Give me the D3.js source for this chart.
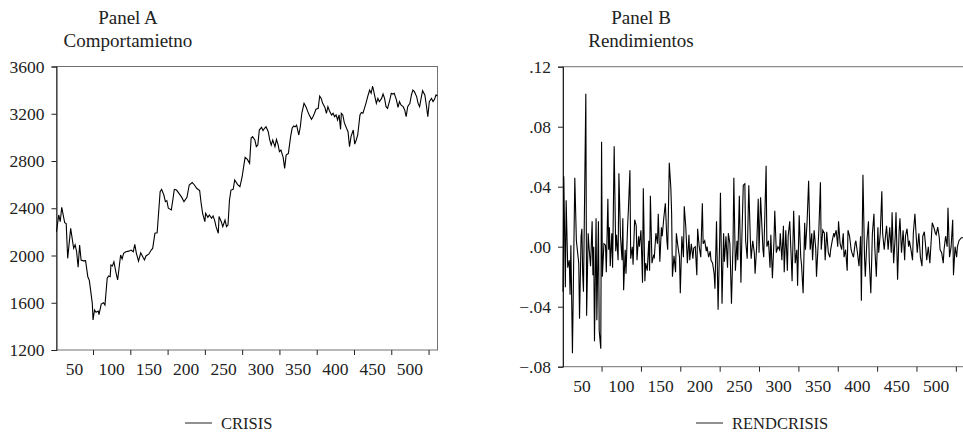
<!DOCTYPE html>
<html>
<head>
<meta charset="utf-8">
<script src="https://cdn.jsdelivr.net/npm/d3@7"></script>
<style>
  body { margin: 0; background: #fff; }
  svg text { font-family: "Liberation Serif", "DejaVu Serif", serif; fill: #222; }
</style>
</head>
<body>
<div id="chart"></div>
<script>

var obsA = [1,4,6,8,12,14,16,20,24,26,28,30,32,34,37,40,43,45,47,49,50,52,54,57,58,61,64,66,69,71,73,74,76,78,81,83,87,89,91,94,98,101,104,106,108,111,114,117,119,121,125,128,130,133,136,140,142,145,147,149,151,155,157,159,162,166,169,172,176,179,183,186,189,193,195,197,200,201,204,206,209,211,213,215,218,219,222,224,227,229,231,233,235,238,240,244,247,250,252,254,257,260,262,264,267,269,271,273,276,278,280,282,285,287,289,291,294,296,298,300,302,305,307,309,312,315,317,319,321,323,326,328,330,333,336,338,340,343,345,347,349,352,354,356,358,361,363,365,367,370,372,374,376,378,380,382,383,385,387,390,392,394,396,399,401,403,405,408,410,412,414,416,419,421,423,425,428,430,432,434,437,439,441,443,445,448,450,452,454,457,459,461,463,466,468,470,472,475,477,479,481,484,486,488,490,492,495,497,499,501,504,506,508,510,512];
var crisis = [2201,2343,2286,2408,2278,2270,1976,2230,2061,2090,2032,1900,2089,1962,1955,1957,1820,1790,1694,1595,1454,1539,1520,1530,1500,1589,1600,1580,1807,1826,1820,1920,1912,1947,1849,1793,2004,1970,2018,2032,2037,2046,2032,2095,2023,1953,2023,1985,1962,1996,2013,2046,2060,2188,2193,2540,2560,2512,2456,2465,2400,2386,2470,2560,2554,2520,2492,2456,2492,2597,2617,2597,2569,2549,2442,2357,2286,2357,2323,2343,2315,2335,2300,2244,2188,2330,2286,2244,2300,2244,2258,2470,2554,2560,2639,2600,2582,2667,2752,2831,2813,2780,2992,3006,2978,2921,2935,3062,3085,3057,3077,3090,3048,2978,2935,2978,2921,2983,2943,2879,2893,2831,2738,2850,2864,3006,3077,3097,3090,3104,3020,3090,3204,3288,3254,3218,3190,3153,3175,3204,3238,3246,3350,3330,3288,3254,3204,3260,3226,3190,3204,3175,3190,3147,3190,3068,3204,3190,3125,3077,3048,2921,3006,3062,2943,2978,3020,3190,3210,3204,3246,3288,3359,3401,3373,3435,3345,3288,3330,3302,3330,3367,3330,3260,3246,3316,3373,3367,3373,3316,3254,3302,3274,3260,3232,3175,3260,3288,3359,3401,3387,3345,3288,3260,3330,3395,3359,3274,3175,3302,3330,3302,3322,3359,3350];

// Panel B - returns
var obsB = [1,2,4,5,7,9,10,11,13,16,18,21,22,24,25,26,27,30,31,33,34,36,38,39,40,41,43,44,46,47,49,50,51,53,55,56,58,59,60,61,63,64,66,68,69,71,72,74,76,77,78,80,81,83,84,86,87,89,90,92,94,95,97,98,100,102,103,105,106,108,110,111,112,114,116,117,119,121,122,124,126,127,129,131,133,134,136,138,139,140,142,144,145,147,149,150,152,154,155,157,159,161,162,164,166,167,169,171,172,174,176,178,179,181,183,184,186,188,189,191,193,194,196,198,200,201,203,205,206,208,210,211,213,215,217,218,220,222,223,225,227,228,230,232,233,235,237,239,240,242,244,245,247,249,250,252,255,256,259,260,262,264,265,267,269,270,272,274,276,277,279,281,282,284,286,287,289,291,292,294,296,298,299,301,303,304,306,308,309,311,313,315,317,318,320,322,323,326,328,329,331,333,334,336,338,340,341,343,345,346,348,350,351,353,355,357,358,360,362,363,365,367,368,370,372,373,375,377,379,380,382,384,385,387,389,390,392,394,396,397,399,401,402,404,406,407,409,411,412,414,416,418,419,421,423,424,426,428,429,431,433,435,436,438,440,441,443,445,446,448,450,451,453,455,457,458,460,462,463,465,467,468,470,472,474,475,477,479,480,482,484,485,487,489,490,492,494,496,497,499,501,502,504,507,509,511];
var rendcrisis = [-0.030,0.047,-0.027,0.031,-0.014,-0.009,-0.032,0.001,-0.071,0.046,0.004,-0.011,-0.048,0.007,0.012,-0.018,-0.030,0.102,-0.046,0.009,0.000,-0.013,0.017,-0.019,0.000,-0.063,0.019,-0.049,0.017,-0.056,-0.068,0.070,-0.020,0.002,0.001,-0.017,0.032,-0.002,0.013,-0.013,0.009,-0.014,0.067,-0.003,0.008,-0.009,0.049,0.007,-0.009,0.019,-0.029,-0.002,-0.018,0.013,0.024,0.051,-0.008,0.000,-0.012,0.018,0.014,-0.009,0.007,0.000,0.011,-0.024,0.039,-0.023,-0.011,-0.016,0.004,-0.016,0.034,-0.011,-0.006,-0.007,0.009,0.002,0.022,-0.010,0.013,0.007,0.019,0.029,0.004,-0.002,0.056,0.039,0.022,-0.020,-0.006,-0.017,0.009,0.000,-0.007,-0.031,0.007,-0.007,0.027,0.013,-0.011,0.008,-0.009,0.002,-0.008,-0.001,0.000,-0.019,0.012,0.000,-0.007,0.029,0.002,0.004,-0.003,0.000,-0.007,-0.003,-0.009,-0.011,-0.018,-0.028,0.017,-0.042,0.004,0.036,-0.038,0.009,-0.010,0.007,-0.014,0.009,0.002,-0.038,0.002,0.046,-0.016,0.004,-0.009,0.034,-0.024,0.002,0.041,0.042,0.004,-0.008,0.041,0.004,-0.008,0.004,-0.004,-0.018,0.000,0.032,-0.004,0.033,-0.002,-0.007,0.054,0.000,0.004,-0.014,0.008,-0.021,0.004,0.024,-0.004,0.000,-0.002,0.009,-0.009,0.014,-0.017,0.011,-0.016,0.007,0.017,-0.009,-0.023,0.024,-0.011,-0.002,-0.026,0.021,-0.007,-0.012,-0.031,0.016,-0.002,0.016,0.044,-0.002,0.009,-0.009,0.011,-0.001,-0.020,0.011,0.043,-0.002,0.011,0.009,-0.009,0.010,-0.004,-0.007,-0.002,0.004,0.009,0.007,0.011,0.000,0.017,0.002,-0.002,0.009,-0.007,-0.002,-0.016,0.011,0.007,-0.002,-0.004,-0.007,0.002,0.004,-0.004,-0.013,0.007,-0.036,0.048,-0.007,-0.020,0.004,0.017,-0.009,-0.031,0.009,0.022,0.000,-0.020,0.013,-0.004,0.009,0.037,0.009,-0.002,0.009,0.014,-0.002,0.013,-0.004,0.023,-0.011,0.007,0.023,-0.022,0.011,0.019,-0.004,0.011,-0.009,0.007,0.012,0.000,0.004,-0.002,-0.009,0.009,0.022,0.004,-0.004,0.009,-0.007,-0.013,0.007,0.010,-0.002,-0.009,0.000,-0.011,-0.002,0.016,0.013,0.009,0.008,0.013,0.006,-0.002,-0.004,-0.011,-0.002,0.007,0.000,0.026,-0.007,0.000,0.018,-0.019,0.000,-0.007,0.000,0.004,0.006,0.006,0.005];

var xTickValues = [50,100,150,200,250,300,350,400,450,500];
var yTicksA = [1200,1600,2000,2400,2800,3200,3600];
var yTicksB = [-0.08,-0.04,0.00,0.04,0.08,0.12];

var width = 963, height = 434;

var svg = d3.select("#chart").append("svg")
    .attr("width", width)
    .attr("height", height);

/*
 *  Draw one panel: frame, axes, line, titles and legend
 */
function drawPanel(opt) {
    var data = opt.obs.map(function (o, i) { return { obs: o, value: opt.values[i] }; });

    var x = d3.scaleLinear().domain(opt.xDomain).range([opt.left, opt.right]);
    var y = d3.scaleLinear().domain(opt.yDomain).range([opt.bottom, opt.top]);

    var g = svg.append("g");

    // frame
    g.append("rect")
        .attr("x", opt.left)
        .attr("y", opt.top)
        .attr("width", opt.right - opt.left)
        .attr("height", opt.bottom - opt.top)
        .attr("fill", "none")
        .attr("stroke", "#707070")
        .attr("stroke-width", 1);

    // y axis
    var yAxis = g.append("g")
        .attr("transform", "translate(" + opt.left + ",0)")
        .call(d3.axisLeft(y).tickValues(opt.yTicks).tickSize(5).tickPadding(7).tickFormat(opt.yFormat));
    yAxis.select(".domain").attr("stroke", "#222");
    yAxis.selectAll(".tick line").attr("stroke", "#222");
    yAxis.selectAll(".tick text")
        .style("font-family", "Liberation Serif")
        .style("font-size", "17.5px")
        .attr("fill", "#222");

    // x axis - labels sit halfway between ticks
    var xAxis = g.append("g")
        .attr("transform", "translate(0," + opt.bottom + ")")
        .call(d3.axisBottom(x).tickValues(xTickValues).tickSize(5).tickFormat(""));
    xAxis.select(".domain").remove();
    xAxis.selectAll(".tick line").attr("stroke", "#222");

    g.selectAll(".xlabel")
        .data(xTickValues)
        .enter().append("text")
        .attr("class", "xlabel")
        .attr("x", function (d) { return x(d - 25); })
        .attr("y", opt.bottom + 25)
        .attr("text-anchor", "middle")
        .style("font-size", "17.5px")
        .text(function (d) { return d; });

    // series line
    var line = d3.line()
        .x(function (d) { return x(d.obs); })
        .y(function (d) { return y(d.value); });

    g.append("path")
        .datum(data)
        .attr("fill", "none")
        .attr("stroke", "#000")
        .attr("stroke-width", 1.1)
        .attr("stroke-linejoin", "miter")
        .attr("d", line);

    // titles
    g.append("text")
        .attr("x", opt.titleX)
        .attr("y", 23.5)
        .attr("text-anchor", "middle")
        .style("font-size", "19px")
        .text(opt.title1);
    g.append("text")
        .attr("x", opt.titleX)
        .attr("y", 47)
        .attr("text-anchor", "middle")
        .style("font-size", "19px")
        .text(opt.title2);

    // legend
    g.append("line")
        .attr("x1", opt.legendX)
        .attr("x2", opt.legendX + 27)
        .attr("y1", 423)
        .attr("y2", 423)
        .attr("stroke", "#222")
        .attr("stroke-width", 1);
    g.append("text")
        .attr("x", opt.legendX + 36)
        .attr("y", 429)
        .style("font-size", "16.5px")
        .text(opt.legend);
}

drawPanel({
    obs: obsA, values: crisis,
    xDomain: [1, 512], yDomain: [1200, 3600], yTicks: yTicksA,
    yFormat: d3.format("d"),
    left: 56.5, right: 437.5, top: 66.5, bottom: 350,
    titleX: 128, title1: "Panel A", title2: "Comportamietno",
    legendX: 185, legend: "CRISIS"
});

drawPanel({
    obs: obsB, values: rendcrisis,
    xDomain: [1, 511], yDomain: [-0.08, 0.12], yTicks: yTicksB,
    yFormat: function (d) { return d3.format(".2f")(d).replace("0.", "."); },
    left: 563, right: 964.5, top: 66.7, bottom: 366.7,
    titleX: 641, title1: "Panel B", title2: "Rendimientos",
    legendX: 696, legend: "RENDCRISIS"
});

</script>
</body>
</html>
